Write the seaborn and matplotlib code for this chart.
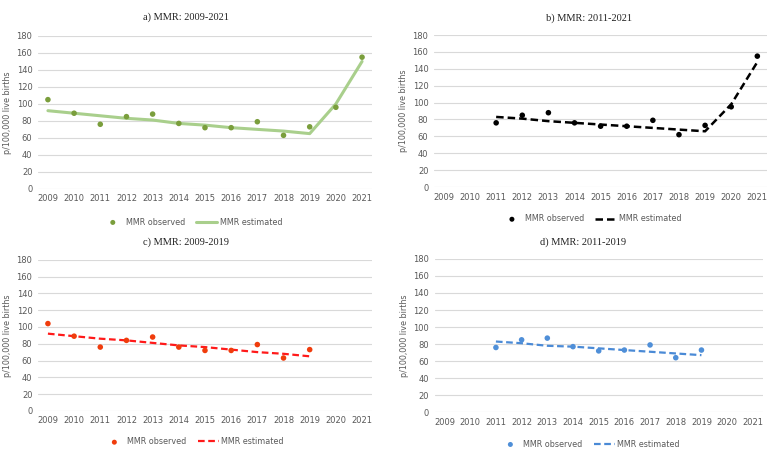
import numpy as np
import pandas as pd
import matplotlib
matplotlib.use("Agg")
import matplotlib.pyplot as plt
import seaborn as sns

# observed MMR per 100,000 live births
years_all = [2009, 2010, 2011, 2012, 2013, 2014, 2015, 2016, 2017, 2018, 2019, 2020, 2021]
observed_all = [105, 89, 76, 85, 88, 77, 72, 72, 79, 63, 73, 96, 155]

# estimated (fitted) series for each panel
est_a = [92, 89, 86, 83, 81, 77, 75, 72, 70, 68, 65, 100, 150]
years_b = [2011, 2012, 2013, 2014, 2015, 2016, 2017, 2018, 2019, 2020, 2021]
obs_b = [76, 85, 88, 76, 72, 72, 79, 62, 73, 95, 155]
est_b = [83, 81, 78, 76, 74, 72, 70, 68, 66, 98, 148]
years_c = [2009, 2010, 2011, 2012, 2013, 2014, 2015, 2016, 2017, 2018, 2019]
obs_c = [104, 89, 76, 84, 88, 76, 72, 72, 79, 63, 73]
est_c = [92, 89, 86, 84, 81, 78, 76, 73, 70, 68, 65]
years_d = [2011, 2012, 2013, 2014, 2015, 2016, 2017, 2018, 2019]
obs_d = [76, 85, 87, 77, 72, 73, 79, 64, 73]
est_d = [83, 81, 78, 77, 75, 73, 71, 69, 67]

titles = ["a) MMR: 2009-2021", "b) MMR: 2011-2021", "c) MMR: 2009-2019", "d) MMR: 2011-2019"]

sns.set_style("white")
plt.rcParams["font.family"] = ["DejaVu Sans"]

fig = plt.figure(figsize=(7.75, 4.55), dpi=100)

# axes box, title anchor and legend anchor (figure coords) per panel
panels = [
    dict(pos=[0.049, 0.585, 0.431, 0.336], title_xy=(0.240, 0.962), leg_xy=(0.248, 0.512),
         years=years_all, obs=observed_all, est=est_a,
         obs_c="#7a9e3c", est_c="#a9cf8c", dash=None, lw=2.2),
    dict(pos=[0.560, 0.589, 0.430, 0.334], title_xy=(0.760, 0.960), leg_xy=(0.763, 0.519),
         years=years_b, obs=obs_b, est=est_b,
         obs_c="#000000", est_c="#000000", dash=(3, 1.6), lw=1.8),
    dict(pos=[0.049, 0.097, 0.431, 0.332], title_xy=(0.240, 0.468), leg_xy=(0.250, 0.029),
         years=years_c, obs=obs_c, est=est_c,
         obs_c="#f03c0c", est_c="#ff1a1a", dash=(3, 1.6), lw=1.6),
    dict(pos=[0.561, 0.094, 0.423, 0.337], title_xy=(0.752, 0.468), leg_xy=(0.761, 0.024),
         years=years_d, obs=obs_d, est=est_d,
         obs_c="#4f8fd8", est_c="#4a8ad6", dash=(3, 1.6), lw=1.6),
]

for p, title in zip(panels, titles):
    ax = fig.add_axes(p["pos"])
    df = pd.DataFrame({"year": p["years"], "obs": p["obs"], "est": p["est"]})
    sns.scatterplot(data=df, x="year", y="obs", ax=ax, color=p["obs_c"], s=16,
                    edgecolor="none", label="MMR observed", zorder=3)
    line_kw = dict(color=p["est_c"], linewidth=p["lw"], label="MMR estimated", zorder=2)
    if p["dash"] is not None:
        line_kw["dashes"] = p["dash"]
    sns.lineplot(data=df, x="year", y="est", ax=ax, **line_kw)
    ax.set_xlim(2008.62, 2021.38)
    ax.set_ylim(0, 180)
    ax.set_yticks(range(0, 181, 20))
    ax.set_xticks(years_all)
    ax.set_xticklabels([str(y) for y in years_all])
    ax.yaxis.grid(True, color="#d9d9d9", linewidth=0.8)
    ax.set_axisbelow(True)
    for s in ax.spines.values():
        s.set_visible(False)
    ax.tick_params(axis="both", length=0, labelsize=6, labelcolor="#595959", pad=4)
    ax.set_xlabel("")
    ax.set_ylabel("p/100,000 live births", fontsize=5.8, color="#595959", labelpad=3)
    fig.text(p["title_xy"][0], p["title_xy"][1], title, ha="center", va="center",
             fontsize=7.5, family="Liberation Serif", color="#222222")
    ax.get_legend().remove()
    handles, labels = ax.get_legend_handles_labels()
    fig.legend(handles, labels, loc="center", bbox_to_anchor=p["leg_xy"], ncol=2,
               frameon=False, fontsize=5.8, labelcolor="#595959", handlelength=2.6,
               handletextpad=0.3, columnspacing=1.4, markerscale=0.9)

fig.savefig("out.png", dpi=100, facecolor="white")
